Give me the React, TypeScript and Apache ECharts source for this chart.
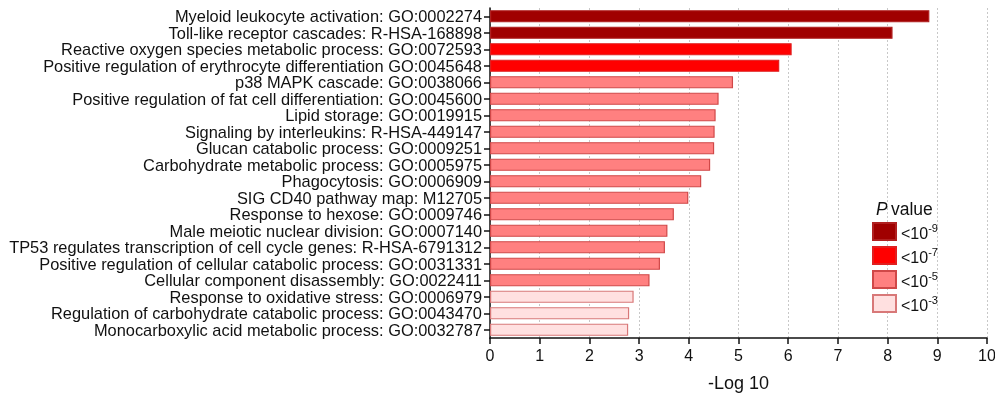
import React, { useEffect, useRef } from "react";
import * as echarts from "echarts";

const categories = [
  "Myeloid leukocyte activation: GO:0002274",
  "Toll-like receptor cascades: R-HSA-168898",
  "Reactive oxygen species metabolic process: GO:0072593",
  "Positive regulation of erythrocyte differentiation GO:0045648",
  "p38 MAPK cascade: GO:0038066",
  "Positive regulation of fat cell differentiation: GO:0045600",
  "Lipid storage: GO:0019915",
  "Signaling by interleukins: R-HSA-449147",
  "Glucan catabolic process: GO:0009251",
  "Carbohydrate metabolic process: GO:0005975",
  "Phagocytosis: GO:0006909",
  "SIG CD40 pathway map: M12705",
  "Response to hexose: GO:0009746",
  "Male meiotic nuclear division: GO:0007140",
  "TP53 regulates transcription of cell cycle genes: R-HSA-6791312",
  "Positive regulation of cellular catabolic process: GO:0031331",
  "Cellular component disassembly: GO:0022411",
  "Response to oxidative stress: GO:0006979",
  "Regulation of carbohydrate catabolic process: GO:0043470",
  "Monocarboxylic acid metabolic process: GO:0032787",
];

const values = [
  8.84, 8.1, 6.07, 5.82, 4.89, 4.6, 4.54, 4.52, 4.51, 4.43, 4.25, 3.99, 3.7,
  3.57, 3.52, 3.42, 3.21, 2.89, 2.8, 2.78,
];

// group index per category: 0 -> <10^-9, 1 -> <10^-7, 2 -> <10^-5, 3 -> <10^-3
const groups = [0, 0, 1, 1, 2, 2, 2, 2, 2, 2, 2, 2, 2, 2, 2, 2, 2, 3, 3, 3];

const groupNames = ["<10-9", "<10-7", "<10-5", "<10-3"];
const groupExponents = ["-9", "-7", "-5", "-3"];
const groupFill = ["#a00000", "#ff0000", "#ff8080", "#ffe0e0"];
const groupBorder = ["#b02020", "#e02020", "#d04848", "#d87878"];

const xTicks = [0, 10, 1];

const FONT = "Liberation Sans, Arial, sans-serif";

export default function App() {
  const ref = useRef<HTMLDivElement>(null);

  useEffect(() => {
    if (!ref.current) return;
    document.body.style.overflow = "hidden";
    const chart = echarts.init(ref.current, null, { renderer: "svg", width: 995, height: 401 });

    const series = groupNames.map((name, g) => ({
      name,
      type: "bar",
      stack: "all",
      barCategoryGap: "26%",
      itemStyle: {
        color: groupFill[g],
        borderColor: groupBorder[g],
        borderWidth: 1.2,
      },
      data: values.map((v, i) => (groups[i] === g ? v : "-")),
    }));

    chart.setOption({
      animation: false,
      textStyle: { fontFamily: FONT },
      grid: {
        left: 490,
        right: 8,
        top: 8,
        bottom: 63,
        containLabel: false,
        outerBoundsMode: "none",
      },
      xAxis: {
        type: "value",
        min: xTicks[0],
        max: xTicks[1],
        interval: xTicks[2],
        name: "-Log 10",
        nameLocation: "middle",
        nameGap: 36,
        nameTextStyle: { fontSize: 18, color: "#111" },
        axisLine: { show: true, lineStyle: { color: "#111", width: 1.5 } },
        axisTick: { show: true, length: 6, lineStyle: { color: "#111", width: 1.5 } },
        axisLabel: { fontSize: 16, color: "#111", margin: 9 },
        splitLine: {
          show: true,
          lineStyle: { color: "#c8c8c8", type: [2, 2], width: 1 },
        },
      },
      yAxis: {
        type: "category",
        inverse: true,
        data: categories,
        axisLine: { show: true, lineStyle: { color: "#111", width: 1.5 } },
        axisTick: { show: true, length: 6, alignWithLabel: true, lineStyle: { color: "#111", width: 1.5 } },
        axisLabel: { fontSize: 16.4, color: "#111", margin: 8, interval: 0 },
        splitLine: { show: false },
      },
      legend: {
        orient: "vertical",
        left: 872,
        top: 222,
        padding: 0,
        itemWidth: 23,
        itemHeight: 17,
        itemGap: 5,
        icon: "rect",
        data: groupNames,
        formatter: (name: string) => {
          const i = groupNames.indexOf(name);
          return `{a|<10}{b|${groupExponents[i]}}`;
        },
        textStyle: {
          rich: {
            a: { fontSize: 16, color: "#111", fontFamily: FONT, verticalAlign: "bottom", padding: [3, 0, 0, 0] },
            b: { fontSize: 11, color: "#111", fontFamily: FONT, verticalAlign: "top", padding: [0, 0, 6, 0] },
          },
        },
      },
      graphic: [
        {
          type: "text",
          left: 876,
          top: 200,
          style: {
            text: "{i|P} {n|value}",
            rich: {
              i: { fontSize: 17.5, fontStyle: "italic", fill: "#111", fontFamily: FONT },
              n: { fontSize: 17.5, fill: "#111", fontFamily: FONT },
            },
          },
        },
      ],
      series,
    });

    return () => {
      chart.dispose();
    };
  }, []);

  return (
    <div
      ref={ref}
      style={{ position: "fixed", left: 0, top: 0, width: 995, height: 401 }}
    />
  );
}
